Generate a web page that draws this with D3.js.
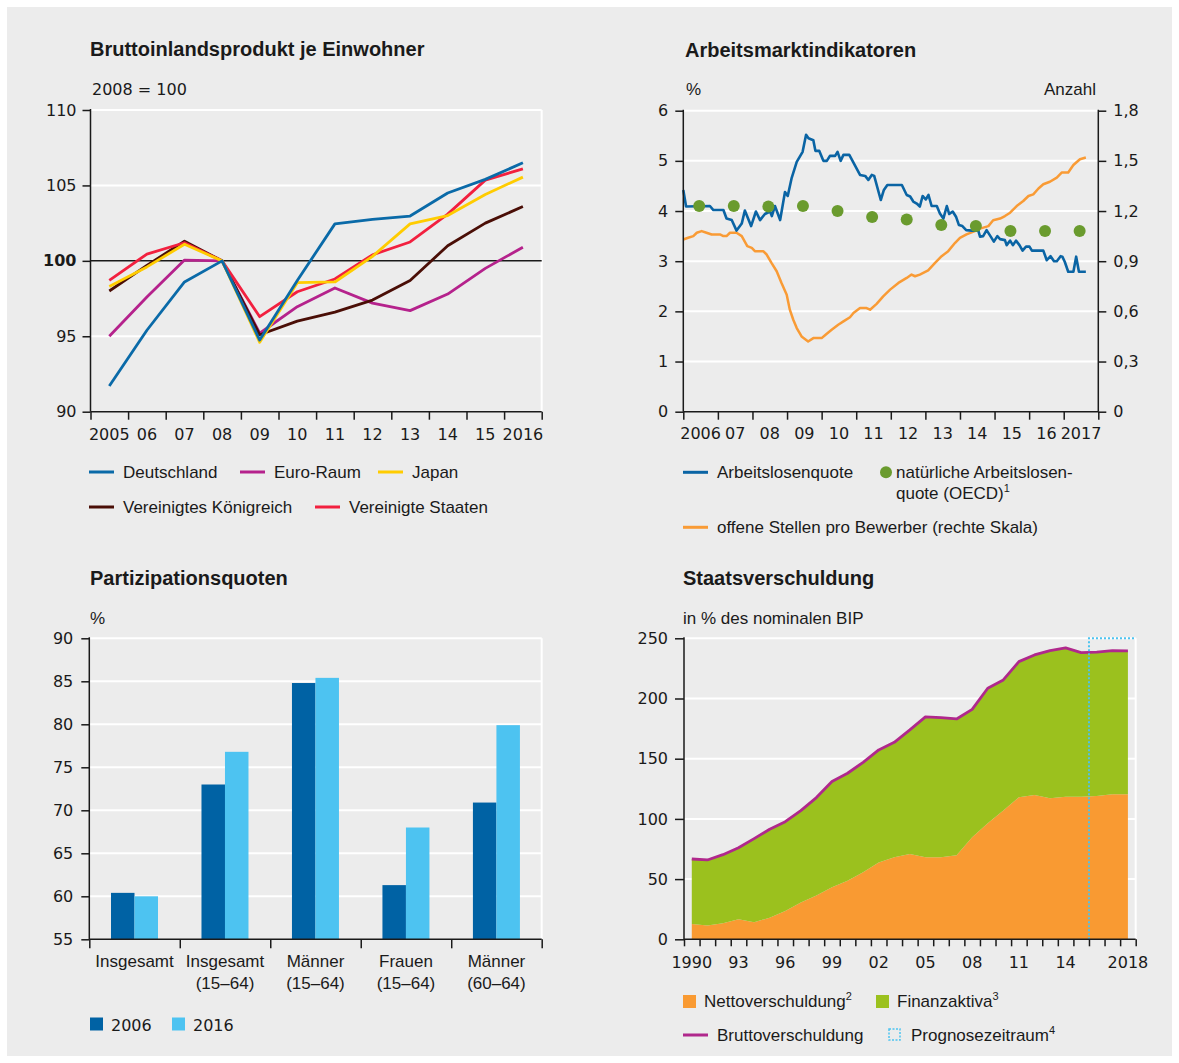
<!DOCTYPE html>
<html><head><meta charset="utf-8">
<script src="https://cdn.jsdelivr.net/npm/d3@7"></script>
<style>
body{margin:0;background:#fff}
svg{display:block}
text{font-family:"Liberation Sans",Arial,sans-serif;fill:#1a1a1a}
.num{font-family:"DejaVu Sans",sans-serif;font-size:16px}
.t{font-weight:bold;font-size:20px}
.l{font-size:17px}
</style></head><body>
<svg id="c" width="1179" height="1063"></svg>
<script>
// ---------------- DATA ----------------
// Panel 1: GDP per capita, 2008 = 100
const gdpYears = [2005,2006,2007,2008,2009,2010,2011,2012,2013,2014,2015,2016];
const gdpYearLabels = ["2005","06","07","08","09","10","11","12","13","14","15","2016"];
const gdpGermany = [91.7,95.4,98.6,100,94.75,98.7,102.45,102.75,102.97,104.5,105.4,106.5];
const gdpEuroArea = [95.0,97.6,100.05,100,95.2,96.96,98.2,97.2,96.7,97.8,99.5,100.9];
const gdpJapan = [98.3,99.6,101.1,100,94.6,98.55,98.6,100.3,102.45,103.0,104.4,105.55];
const gdpUK = [98.0,99.7,101.3,100,95.1,96.0,96.6,97.4,98.7,101.0,102.5,103.6];
const gdpUS = [98.7,100.45,101.2,100,96.3,97.95,98.8,100.4,101.25,103.1,105.35,106.1];
const gdpSeriesNames = ["Deutschland","Euro-Raum","Japan","Vereinigtes Königreich","Vereinigte Staaten"];

// Panel 2: labour market (x = decimal year)
const laborYearLabels = ["2006","07","08","09","10","11","12","13","14","15","16","2017"];
const unemploymentRate = [
 [2006.0,4.42],[2006.08,4.09],[2006.77,4.10],[2006.87,4.02],[2007.16,4.02],[2007.25,3.85],[2007.40,3.82],
 [2007.54,3.61],[2007.69,3.75],[2007.78,4.01],[2007.96,3.70],[2008.10,3.99],[2008.22,3.82],[2008.36,3.94],
 [2008.51,3.99],[2008.56,3.90],[2008.65,4.10],[2008.80,3.82],[2008.94,4.38],[2009.02,4.30],[2009.13,4.65],
 [2009.28,4.98],[2009.45,5.18],[2009.55,5.52],[2009.62,5.45],[2009.76,5.41],[2009.82,5.20],[2009.93,5.20],
 [2010.05,5.00],[2010.15,5.00],[2010.24,5.10],[2010.39,5.10],[2010.46,5.18],[2010.55,5.00],[2010.63,5.12],
 [2010.80,5.12],[2011.11,4.72],[2011.26,4.70],[2011.35,4.62],[2011.45,4.72],[2011.52,4.70],[2011.71,4.22],
 [2011.80,4.42],[2011.90,4.52],[2012.32,4.52],[2012.46,4.32],[2012.56,4.29],[2012.65,4.19],[2012.75,4.15],
 [2012.84,4.09],[2012.92,4.30],[2013.01,4.23],[2013.09,4.32],[2013.18,4.10],[2013.33,4.10],[2013.42,3.95],
 [2013.52,3.85],[2013.62,4.10],[2013.69,3.94],[2013.79,3.99],[2013.89,3.88],[2013.97,3.72],[2014.07,3.70],
 [2014.18,3.62],[2014.34,3.61],[2014.53,3.61],[2014.58,3.49],[2014.67,3.50],[2014.77,3.62],[2014.89,3.49],
 [2014.98,3.39],[2015.08,3.50],[2015.16,3.44],[2015.30,3.42],[2015.35,3.32],[2015.45,3.41],[2015.53,3.32],
 [2015.62,3.41],[2015.72,3.32],[2015.81,3.21],[2015.91,3.29],[2016.01,3.29],[2016.08,3.21],[2016.41,3.21],
 [2016.51,3.02],[2016.62,3.10],[2016.72,3.00],[2016.80,3.00],[2016.91,3.10],[2016.96,3.09],[2017.03,2.99],
 [2017.13,2.79],[2017.28,2.79],[2017.36,3.09],[2017.44,2.79],[2017.64,2.79]
];
const naturalRateYears = [2006,2007,2008,2009,2010,2011,2012,2013,2014,2015,2016,2017];
const naturalRate = [4.10,4.10,4.09,4.10,4.00,3.88,3.83,3.72,3.70,3.60,3.60,3.60];
const vacanciesPerApplicant = [
 [2006.0,1.03],[2006.14,1.04],[2006.29,1.05],[2006.39,1.07],[2006.53,1.08],[2006.67,1.07],[2006.82,1.06],
 [2007.06,1.06],[2007.16,1.05],[2007.25,1.05],[2007.35,1.07],[2007.54,1.07],[2007.69,1.05],[2007.85,0.99],
 [2007.98,0.98],[2008.07,0.96],[2008.31,0.96],[2008.41,0.94],[2008.55,0.89],[2008.70,0.84],[2008.84,0.77],
 [2008.99,0.70],[2009.08,0.61],[2009.18,0.55],[2009.28,0.50],[2009.42,0.45],[2009.61,0.42],[2009.76,0.44],
 [2010.00,0.44],[2010.14,0.465],[2010.29,0.49],[2010.48,0.52],[2010.63,0.54],[2010.82,0.565],[2010.92,0.59],
 [2011.11,0.62],[2011.30,0.62],[2011.40,0.61],[2011.59,0.645],[2011.78,0.69],[2011.98,0.73],[2012.22,0.77],
 [2012.46,0.80],[2012.60,0.82],[2012.70,0.81],[2012.84,0.82],[2013.08,0.845],[2013.28,0.89],[2013.47,0.93],
 [2013.66,0.96],[2013.86,1.01],[2014.00,1.04],[2014.19,1.06],[2014.43,1.08],[2014.58,1.095],[2014.82,1.11],
 [2014.96,1.145],[2015.16,1.155],[2015.30,1.17],[2015.45,1.19],[2015.64,1.23],[2015.83,1.26],[2015.98,1.29],
 [2016.12,1.30],[2016.27,1.335],[2016.41,1.36],[2016.60,1.375],[2016.80,1.40],[2016.94,1.43],[2017.13,1.43],
 [2017.28,1.475],[2017.47,1.51],[2017.64,1.52]
];

// Panel 3: participation rates
const partCategories = [["Insgesamt"],["Insgesamt","(15–64)"],["Männer","(15–64)"],["Frauen","(15–64)"],["Männer","(60–64)"]];
const partYears = ["2006","2016"];
const part2006 = [60.4,73.0,84.8,61.3,70.9];
const part2016 = [60.0,76.8,85.4,68.0,79.9];

// Panel 4: government debt, % of nominal GDP
const debtYears = d3.range(1990, 2019);
const debtYearLabels = {1990:"1990",1993:"93",1996:"96",1999:"99",2002:"02",2005:"05",2008:"08",2011:"11",2014:"14",2018:"2018"};
const grossDebt = [66.7,65.9,70.3,76.1,83.6,91.4,97.7,106.9,117.7,131.0,137.9,147.0,157.3,163.6,173.9,184.7,184.1,183.0,191.0,208.5,215.4,230.6,236.2,239.7,242.0,238.1,238.6,239.7,239.5];
const netDebt = [12.7,11.4,13.3,16.6,14.1,18.0,23.5,30.5,36.3,43.2,48.7,55.6,63.7,68.1,70.9,68.1,68.1,69.8,84.7,96.3,106.9,117.9,119.9,117.1,118.5,118.5,119.0,120.4,120.4];
const forecastStart = 2016;

// ---------------- DRAWING ----------------
const svg = d3.select("#c");
const AX = "#1a1a1a";
svg.append("rect").attr("width",1179).attr("height",1063).attr("fill","#fff");
svg.append("rect").attr("x",7).attr("y",7).attr("width",1165).attr("height",1049).attr("fill","#ececec");

function txt(x,y,s,cls,anchor){
  return svg.append("text").attr("x",x).attr("y",y).attr("class",cls||"l").attr("text-anchor",anchor||"start").text(s);
}
function styleAxis(g){
  g.attr("font-family",null).attr("font-size",null);
  g.select(".domain").remove();
  g.selectAll(".tick line").attr("stroke",AX).attr("stroke-width",1.5);
  g.selectAll(".tick text").attr("class","num").attr("fill",AX);
  return g;
}
function grid(y, vals, x0, x1){
  svg.append("g").selectAll("line").data(vals).join("line")
    .attr("x1",x0).attr("x2",x1).attr("y1",d=>y(d)).attr("y2",d=>y(d))
    .attr("stroke","#fff").attr("stroke-width",2);
}
function hline(x0,x1,y,c,w){svg.append("line").attr("x1",x0).attr("x2",x1).attr("y1",y).attr("y2",y).attr("stroke",c||AX).attr("stroke-width",w||1.5);}
function vline(x,y0,y1,c,w){svg.append("line").attr("x1",x).attr("x2",x).attr("y1",y0).attr("y2",y1).attr("stroke",c||AX).attr("stroke-width",w||1.5);}

// ===== Panel 1 =====
{
  const x0=90.5,x1=541.7,yT=110,yB=411.7;
  txt(90,56,"Bruttoinlandsprodukt je Einwohner","t");
  txt(92,95,"2008 = 100","num");
  const x = d3.scaleBand().domain(gdpYears).range([x0,x1]).padding(0);
  const y = d3.scaleLinear().domain([90,110]).range([yB,yT]);
  grid(y,[95,105,110],x0,x1);
  vline(x1,yT,yB,"#fff",2);
  hline(x0,x1,y(100),AX,1.5);
  const cols = ["#0a6aa8","#b5228c","#ffcc00","#4a0e06","#f2203f"];
  const series = [gdpEuroArea,gdpUK,gdpUS,gdpJapan,gdpGermany];
  const sc = [cols[1],cols[3],cols[4],cols[2],cols[0]];
  const line = d3.line().x((d,i)=>x(gdpYears[i])+x.bandwidth()/2).y(d=>y(d));
  series.forEach((s,k)=>svg.append("path").attr("d",line(s)).attr("fill","none").attr("stroke",sc[k]).attr("stroke-width",2.8).attr("stroke-linejoin","round"));
  const ya = svg.append("g").attr("transform",`translate(${x0},0)`)
    .call(d3.axisLeft(y).tickValues([90,95,100,105,110]).tickSize(8).tickPadding(6));
  styleAxis(ya);
  ya.selectAll(".tick text").filter(d=>d===100).attr("font-weight","bold");
  vline(x0,yT-1,yB);
  hline(x0,x1,yB);
  const xe = d3.scaleLinear().domain([2004.5,2016.5]).range([x0,x1]);
  const xa = svg.append("g").attr("transform",`translate(0,${yB})`)
    .call(d3.axisBottom(xe).tickValues(d3.range(2004.5,2017,1)).tickSize(8).tickFormat(""));
  styleAxis(xa);
  svg.append("g").selectAll("text").data(gdpYears).join("text")
    .attr("class","num").attr("text-anchor","middle")
    .attr("x",d=>x(d)+x.bandwidth()/2).attr("y",440).text((d,i)=>gdpYearLabels[i]);
  // legend
  const leg = [[0,89,472],[1,240,472],[2,378,472],[3,89,507],[4,315,507]];
  leg.forEach(([i,lx,ly])=>{
    hline(lx,lx+25,ly,cols[i],3);
    txt(lx+34,ly+6,gdpSeriesNames[i]);
  });
}

// ===== Panel 2 =====
{
  const x0=683.3,x1=1098.3,yT=110.7,yB=411.7;
  txt(685,57,"Arbeitsmarktindikatoren","t");
  txt(686,95,"%");
  txt(1096,95,"Anzahl","l","end");
  const x = d3.scaleLinear().domain([2006,2018]).range([x0,x1]);
  const y = d3.scaleLinear().domain([0,6]).range([yB,yT]);
  const yr = d3.scaleLinear().domain([0,1.8]).range([yB,yT]);
  grid(y,[1,2,3,4,5,6],x0,x1);
  const lo = d3.line().x(d=>x(d[0])).y(d=>yr(d[1]));
  svg.append("path").attr("d",lo(vacanciesPerApplicant)).attr("fill","none").attr("stroke","#f99b35").attr("stroke-width",2.5).attr("stroke-linejoin","round");
  const lb = d3.line().x(d=>x(d[0])).y(d=>y(d[1]));
  svg.append("path").attr("d",lb(unemploymentRate)).attr("fill","none").attr("stroke","#0a64a4").attr("stroke-width",2.6).attr("stroke-linejoin","round");
  svg.append("g").selectAll("circle").data(naturalRate).join("circle")
    .attr("cx",(d,i)=>x(naturalRateYears[i]+0.46)).attr("cy",d=>y(d)).attr("r",6).attr("fill","#6a9b2e");
  const fmt = d3.formatLocale({decimal:",",thousands:".",grouping:[3],currency:["","€"]});
  const yl = svg.append("g").attr("transform",`translate(${x0},0)`)
    .call(d3.axisLeft(y).tickValues([0,1,2,3,4,5,6]).tickSize(8).tickPadding(7).tickFormat(d3.format("d")));
  styleAxis(yl);
  const yrA = svg.append("g").attr("transform",`translate(${x1},0)`)
    .call(d3.axisRight(yr).tickValues([0,0.3,0.6,0.9,1.2,1.5,1.8]).tickSize(8).tickPadding(7).tickFormat(d=>d===0?"0":fmt.format(".1f")(d)));
  styleAxis(yrA);
  vline(x0,yT-1,yB); vline(x1,yT-1,yB); hline(x0,x1,yB);
  const xa = svg.append("g").attr("transform",`translate(0,${yB})`)
    .call(d3.axisBottom(x).tickValues(d3.range(2006,2019)).tickSize(8).tickFormat(""));
  styleAxis(xa);
  svg.append("g").selectAll("text").data(laborYearLabels).join("text")
    .attr("class","num").attr("text-anchor","middle")
    .attr("x",(d,i)=>x(2006.5+i)).attr("y",439).text(d=>d);
  // legend
  hline(683,708,472.3,"#0a64a4",3);
  txt(717,478,"Arbeitslosenquote");
  svg.append("circle").attr("cx",886).attr("cy",472.3).attr("r",6).attr("fill","#6a9b2e");
  txt(896,478,"natürliche Arbeitslosen-");
  const q = txt(896,499,"quote (OECD)");
  q.append("tspan").attr("dy",-7).attr("font-size",11).text("1");
  hline(683,708,527.3,"#f99b35",3);
  txt(717,533,"offene Stellen pro Bewerber (rechte Skala)");
}

// ===== Panel 3 =====
{
  const x0=89.3,x1=541.7,yT=638.3,yB=939.3;
  txt(90,585,"Partizipationsquoten","t");
  txt(90,624,"%");
  const idx = d3.range(partCategories.length);
  const x = d3.scaleBand().domain(idx).range([x0,x1]).padding(0);
  const xs = d3.scaleBand().domain(partYears).range([21.7,68.7]).padding(0);
  const y = d3.scaleLinear().domain([55,90]).range([yB,yT]);
  grid(y,[60,65,70,75,80,85,90],x0,x1);
  vline(x1,yT,yB,"#fff",2);
  const colors = {"2006":"#0062a4","2016":"#4dc3f1"};
  const vals = {"2006":part2006,"2016":part2016};
  partYears.forEach(yr=>{
    svg.append("g").selectAll("rect").data(vals[yr]).join("rect")
      .attr("x",(d,i)=>x(i)+xs(yr)).attr("width",xs.bandwidth())
      .attr("y",d=>y(d)).attr("height",d=>yB-y(d)).attr("fill",colors[yr]);
  });
  const ya = svg.append("g").attr("transform",`translate(${x0},0)`)
    .call(d3.axisLeft(y).tickValues([55,60,65,70,75,80,85,90]).tickSize(8).tickPadding(8));
  styleAxis(ya);
  vline(x0,yT-1,yB); hline(x0,x1,yB);
  const xe = d3.scaleLinear().domain([0,5]).range([x0,x1]);
  const xa = svg.append("g").attr("transform",`translate(0,${yB})`)
    .call(d3.axisBottom(xe).tickValues(d3.range(0,6)).tickSize(9).tickFormat(""));
  styleAxis(xa);
  partCategories.forEach((lines,i)=>{
    lines.forEach((s,j)=>txt(x(i)+x.bandwidth()/2,967+j*21.5,s,"l","middle"));
  });
  svg.append("rect").attr("x",90).attr("y",1017.5).attr("width",13).attr("height",13).attr("fill",colors["2006"]);
  txt(111,1030.5,"2006","num");
  svg.append("rect").attr("x",172).attr("y",1017.5).attr("width",13).attr("height",13).attr("fill",colors["2016"]);
  txt(193,1030.5,"2016","num");
}

// ===== Panel 4 =====
{
  const x0=684,x1=1135.7,yT=638.3,yB=939.3;
  txt(683,585,"Staatsverschuldung","t");
  txt(683,624,"in % des nominalen BIP");
  const x = d3.scaleBand().domain(debtYears).range([x0,x1]).padding(0);
  const cx = yr=>x(yr)+x.bandwidth()/2;
  const y = d3.scaleLinear().domain([0,250]).range([yB,yT]);
  grid(y,[50,100,150,200,250],x0,x1);
  vline(x1,yT,yB,"#fff",2);
  const aNet = d3.area().x((d,i)=>cx(debtYears[i])).y0(y(0)).y1(d=>y(d));
  svg.append("path").attr("d",aNet(netDebt)).attr("fill","#f99a32");
  const aFin = d3.area().x((d,i)=>cx(debtYears[i])).y0((d,i)=>y(netDebt[i])).y1(d=>y(d));
  svg.append("path").attr("d",aFin(grossDebt)).attr("fill","#9bc11e");
  const lg = d3.line().x((d,i)=>cx(debtYears[i])).y(d=>y(d));
  svg.append("path").attr("d",lg(grossDebt)).attr("fill","none").attr("stroke","#b0288c").attr("stroke-width",2.8).attr("stroke-linejoin","round");
  const fx = x(forecastStart);
  svg.append("path").attr("d",`M${fx},${yB}V${yT}H${x1}`)
    .attr("fill","none").attr("stroke","#4cc3f0").attr("stroke-width",2).attr("stroke-dasharray","2,2");
  const ya = svg.append("g").attr("transform",`translate(${x0},0)`)
    .call(d3.axisLeft(y).tickValues([0,50,100,150,200,250]).tickSize(9).tickPadding(7));
  styleAxis(ya);
  vline(x0,yT-1,yB); hline(x0,x1,yB);
  const xe = d3.scaleLinear().domain([1989.5,2018.5]).range([x0,x1]);
  const xa = svg.append("g").attr("transform",`translate(0,${yB})`)
    .call(d3.axisBottom(xe).tickValues(d3.range(1989.5,2019,1)).tickSize(7).tickFormat(""));
  styleAxis(xa);
  svg.append("g").selectAll("text").data(Object.keys(debtYearLabels).map(Number)).join("text")
    .attr("class","num").attr("text-anchor","middle")
    .attr("x",d=>cx(d)).attr("y",967.5).text(d=>debtYearLabels[d]);
  // legend
  svg.append("rect").attr("x",683).attr("y",995).attr("width",13).attr("height",13).attr("fill","#f99a32");
  const t1 = txt(704,1006.5,"Nettoverschuldung");
  t1.append("tspan").attr("dy",-7).attr("font-size",11).text("2");
  svg.append("rect").attr("x",876).attr("y",995).attr("width",13).attr("height",13).attr("fill","#9bc11e");
  const t2 = txt(897,1006.5,"Finanzaktiva");
  t2.append("tspan").attr("dy",-7).attr("font-size",11).text("3");
  hline(683,708,1035,"#b0288c",3);
  txt(717,1041,"Bruttoverschuldung");
  svg.append("rect").attr("x",889).attr("y",1029).attr("width",11).attr("height",11)
    .attr("fill","none").attr("stroke","#4cc3f0").attr("stroke-width",1.5).attr("stroke-dasharray","2,1.5");
  const t3 = txt(911,1041,"Prognosezeitraum");
  t3.append("tspan").attr("dy",-7).attr("font-size",11).text("4");
}
</script></body></html>
